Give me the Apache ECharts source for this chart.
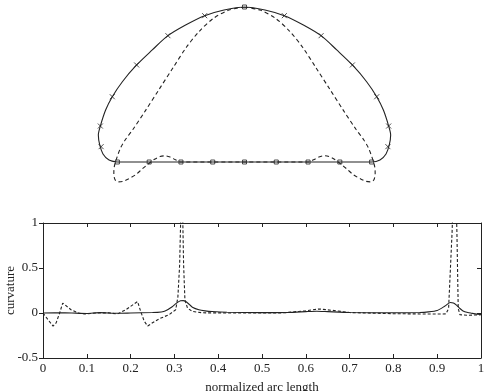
<!DOCTYPE html>
<html>
<head>
<meta charset="utf-8">
<script src="https://cdn.jsdelivr.net/npm/echarts@6/dist/echarts.min.js"></script>
<style>
  html, body { margin: 0; padding: 0; background: #fff; }
  #chart { width: 486px; height: 391px; }
</style>
</head>
<body>
<div id="chart"></div>
<script>
// shape outline (solid); bottom line y = 0, top = 1
const solidShape = [
  [-0.821, 0], [-0.615, 0], [-0.41, 0], [-0.205, 0], [0, 0], [0.205, 0], [0.41, 0], [0.615, 0], [0.821, 0],
  [0.874, 0.013], [0.913, 0.052], [0.934, 0.11], [0.943, 0.174], [0.93, 0.232], [0.896, 0.335],
  [0.853, 0.421], [0.788, 0.518], [0.696, 0.626], [0.595, 0.723], [0.494, 0.815], [0.38, 0.884],
  [0.257, 0.944], [0.132, 0.981], [0, 1], [-0.132, 0.981], [-0.257, 0.944], [-0.38, 0.884],
  [-0.494, 0.815], [-0.595, 0.723], [-0.696, 0.626], [-0.788, 0.518], [-0.853, 0.421],
  [-0.896, 0.335], [-0.93, 0.232], [-0.943, 0.174], [-0.934, 0.11], [-0.913, 0.052],
  [-0.874, 0.013], [-0.821, 0]
]
// dashed outline
const dashedShape = [
  [0, 1], [0.1, 0.98], [0.2, 0.927], [0.29, 0.845], [0.375, 0.74], [0.46, 0.61], [0.55, 0.47],
  [0.64, 0.33], [0.72, 0.21], [0.77, 0.142], [0.8, 0.09], [0.826, 0.02], [0.84, -0.03],
  [0.843, -0.073], [0.835, -0.115], [0.815, -0.128], [0.785, -0.125], [0.75, -0.11], [0.7, -0.08],
  [0.66, -0.045], [0.615, -0.008], [0.58, 0.018], [0.545, 0.035], [0.515, 0.04], [0.48, 0.032],
  [0.445, 0.014], [0.41, 0], [0.2, 0], [0, 0], [-0.2, 0], [-0.41, 0], [-0.445, 0.014],
  [-0.48, 0.032], [-0.515, 0.04], [-0.545, 0.035], [-0.58, 0.018], [-0.615, -0.008],
  [-0.66, -0.045], [-0.7, -0.08], [-0.75, -0.11], [-0.785, -0.125], [-0.815, -0.128],
  [-0.835, -0.115], [-0.843, -0.073], [-0.84, -0.03], [-0.826, 0.02], [-0.8, 0.09],
  [-0.77, 0.142], [-0.72, 0.21], [-0.64, 0.33], [-0.55, 0.47], [-0.46, 0.61], [-0.375, 0.74],
  [-0.29, 0.845], [-0.2, 0.927], [-0.1, 0.98], [0, 1]
]
const crossMarks = [
  [0.257, 0.944], [0.494, 0.815], [0.696, 0.626], [0.853, 0.421], [0.93, 0.232], [0.925, 0.099],
  [-0.257, 0.944], [-0.494, 0.815], [-0.696, 0.626], [-0.853, 0.421], [-0.93, 0.232], [-0.925, 0.099]
]
const squareMarks = [
  [0, 1], [-0.82, 0], [-0.615, 0], [-0.41, 0], [-0.205, 0], [0, 0], [0.205, 0], [0.41, 0], [0.615, 0], [0.82, 0]
]

// curvature vs normalized arc length
const solidCurv = [
  [0, 0], [0.05, 0.002], [0.1, -0.005], [0.13, 0.004], [0.17, -0.003], [0.2, 0], [0.25, 0.005],
  [0.27, 0.012], [0.28, 0.025], [0.295, 0.07], [0.305, 0.11], [0.314, 0.135], [0.32, 0.138],
  [0.326, 0.127], [0.334, 0.095], [0.341, 0.065], [0.356, 0.036], [0.37, 0.024], [0.386, 0.016],
  [0.42, 0.008], [0.5, 0.004], [0.56, 0.006], [0.6, 0.015], [0.625, 0.02], [0.65, 0.015],
  [0.7, 0.005], [0.8, 0.002], [0.86, 0.005], [0.88, 0.012], [0.9, 0.028], [0.917, 0.075],
  [0.93, 0.116], [0.937, 0.11], [0.944, 0.087], [0.952, 0.05], [0.959, 0.022], [0.97, 0.005],
  [0.978, -0.002], [0.99, -0.012], [1, -0.015]
]
const dashedCurv = [
  [0, 0], [0.011, -0.072], [0.023, -0.145], [0.03, -0.109], [0.038, 0], [0.045, 0.11], [0.053, 0.08],
  [0.064, 0.036], [0.08, 0], [0.095, -0.011], [0.121, 0], [0.15, 0.002], [0.17, -0.011],
  [0.189, 0.036], [0.208, 0.101], [0.216, 0.127], [0.223, 0.018], [0.231, -0.09], [0.239, -0.145],
  [0.25, -0.109], [0.265, -0.065], [0.288, -0.018], [0.303, 0.036], [0.308, 0.18], [0.312, 0.54],
  [0.317, 1.6], [0.321, 0.54], [0.324, 0.145], [0.33, 0.054], [0.341, 0.018], [0.364, 0.002],
  [0.45, 0], [0.55, 0.002], [0.6, 0.025], [0.63, 0.045], [0.66, 0.03], [0.7, 0.005], [0.8, -0.008],
  [0.9, -0.012], [0.92, -0.01], [0.926, 0.05], [0.934, 0.9], [0.94, 1.8], [0.945, 0.9],
  [0.948, 0.05], [0.952, -0.02], [0.97, -0.025], [1, -0.02]
]
const yTicks = [-0.5, 0, 0.5, 1]

const chart = echarts.init(document.getElementById('chart'))
const ink = '#222'
const font = 'Liberation Serif'
const hidden = { show: false }
const frameLine = { onZero: false, lineStyle: { color: ink, width: 1 } }

const option = {
  animation: false,
  grid: [
    { left: 89.5, top: 7, width: 310, height: 186, outerBoundsMode: 'none' },
    { left: 43, top: 223, width: 438, height: 135, outerBoundsMode: 'none', containLabel: false }
  ],
  xAxis: [
    { gridIndex: 0, type: 'value', min: -1, max: 1, show: false },
    {
      gridIndex: 1, type: 'value', min: 0, max: 1, interval: 0.1,
      name: 'normalized arc length', nameLocation: 'middle', nameGap: 23, nameMoveOverlap: false,
      nameTextStyle: { fontFamily: font, fontSize: 13, color: ink },
      axisLine: frameLine,
      axisTick: { inside: true, length: 4, lineStyle: { color: ink } },
      axisLabel: { fontFamily: font, fontSize: 13, color: ink, margin: 4 },
      splitLine: hidden
    },
    {
      gridIndex: 1, type: 'value', min: 0, max: 1, interval: 0.1, position: 'top',
      axisLine: frameLine,
      axisTick: { inside: true, length: 4, lineStyle: { color: ink } },
      axisLabel: hidden, splitLine: hidden
    }
  ],
  yAxis: [
    { gridIndex: 0, type: 'value', min: -0.2, max: 1, show: false },
    {
      gridIndex: 1, type: 'value', min: yTicks[0], max: yTicks[yTicks.length - 1], interval: 0.5,
      name: 'curvature', nameLocation: 'middle', nameGap: 26, nameMoveOverlap: false,
      nameTextStyle: { fontFamily: font, fontSize: 13, color: ink },
      axisLine: frameLine,
      axisTick: { inside: false, length: 4, lineStyle: { color: ink } },
      axisLabel: { fontFamily: font, fontSize: 13, color: ink, margin: 5 },
      splitLine: hidden
    },
    {
      gridIndex: 1, type: 'value', min: -0.5, max: 1, interval: 0.5, position: 'right',
      axisLine: frameLine,
      axisTick: { inside: true, length: 4, lineStyle: { color: ink } },
      axisLabel: hidden, splitLine: hidden
    }
  ],
  series: [
    {
      type: 'line', xAxisIndex: 0, yAxisIndex: 0, data: solidShape, smooth: 0.3,
      showSymbol: false, lineStyle: { color: ink, width: 1.1 }
    },
    {
      type: 'line', xAxisIndex: 0, yAxisIndex: 0, data: dashedShape, smooth: 0.3,
      showSymbol: false, lineStyle: { color: ink, width: 1.1, type: [4, 3] }
    },
    {
      type: 'scatter', xAxisIndex: 0, yAxisIndex: 0, data: crossMarks,
      symbol: 'path://M0,0L10,10M10,0L0,10', symbolSize: 5,
      itemStyle: { color: 'none', borderColor: ink, borderWidth: 1 }
    },
    {
      type: 'scatter', xAxisIndex: 0, yAxisIndex: 0, data: squareMarks,
      symbol: 'rect', symbolSize: 4,
      itemStyle: { color: '#fff', borderColor: ink, borderWidth: 1 }
    },
    {
      type: 'line', xAxisIndex: 1, yAxisIndex: 1, data: solidCurv, smooth: 0.2,
      showSymbol: false, lineStyle: { color: ink, width: 1.1 }
    },
    {
      type: 'line', xAxisIndex: 1, yAxisIndex: 1, data: dashedCurv,
      showSymbol: false, lineStyle: { color: ink, width: 1.1, type: [3, 2] }
    }
  ]
}
chart.setOption(option)
</script>
</body>
</html>
